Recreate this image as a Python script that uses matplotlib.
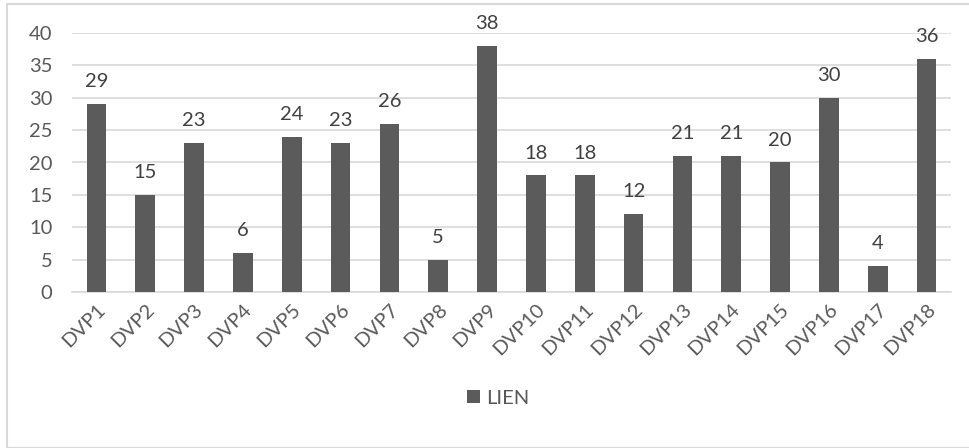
import matplotlib
matplotlib.use("Agg")
import matplotlib.pyplot as plt
from matplotlib.patches import Rectangle, Patch

categories = ["DVP1","DVP2","DVP3","DVP4","DVP5","DVP6","DVP7","DVP8","DVP9",
              "DVP10","DVP11","DVP12","DVP13","DVP14","DVP15","DVP16","DVP17","DVP18"]
values = [29, 15, 23, 6, 24, 23, 26, 5, 38, 18, 18, 12, 21, 21, 20, 30, 4, 36]
series_name = "LIEN"
yticks = [0, 5, 10, 15, 20, 25, 30, 35, 40]

plt.rcParams['font.family'] = ['Lato', 'DejaVu Sans']
W, H = 970, 448
fig = plt.figure(figsize=(W/100, H/100), dpi=100)
fig.patch.set_facecolor('white')

# outer chart border
fig.add_artist(Rectangle((7/W, 0), (W-7)/W + 0.01, (H-4)/H, transform=fig.transFigure,
                         fill=False, edgecolor='#d9d9d9', linewidth=1.5))

ax = fig.add_axes([72/W, 1-292/H, (951-72)/W, (292-33)/H])
bar_color = '#5b5b5b'
text_color = '#595959'
fs = 14.5
x = list(range(len(categories)))
bars = ax.bar(x, values, width=0.4, color=bar_color, zorder=3)
for xi, v in zip(x, values):
    ax.annotate(str(v), (xi, v), xytext=(0, 10), textcoords='offset points',
                ha='center', va='bottom', fontsize=fs, color='#404040')

ax.set_xlim(-0.5, len(categories)-0.5)
ax.set_ylim(0, 40)
ax.set_yticks(yticks)
ax.yaxis.grid(True, color='#d9d9d9', linewidth=1.2, zorder=0)
ax.set_axisbelow(True)
for s in ['top', 'right', 'left']:
    ax.spines[s].set_visible(False)
ax.spines['bottom'].set_color('#d9d9d9')
ax.spines['bottom'].set_linewidth(1.2)
ax.tick_params(axis='both', length=0, labelsize=fs, colors=text_color)
ax.tick_params(axis='y', pad=14)
ax.set_xticks(x)
ax.set_xticklabels(categories, rotation=45, ha='right', rotation_mode='anchor')
ax.tick_params(axis='x', pad=6)

fig.legend(handles=[Patch(facecolor=bar_color, label=series_name)],
           loc='center', bbox_to_anchor=(498/W, 1-398/H), frameon=False,
           fontsize=fs, handlelength=0.65, handleheight=0.65, handletextpad=0.3,
           labelcolor=text_color)

fig.savefig('out.png', dpi=100)
